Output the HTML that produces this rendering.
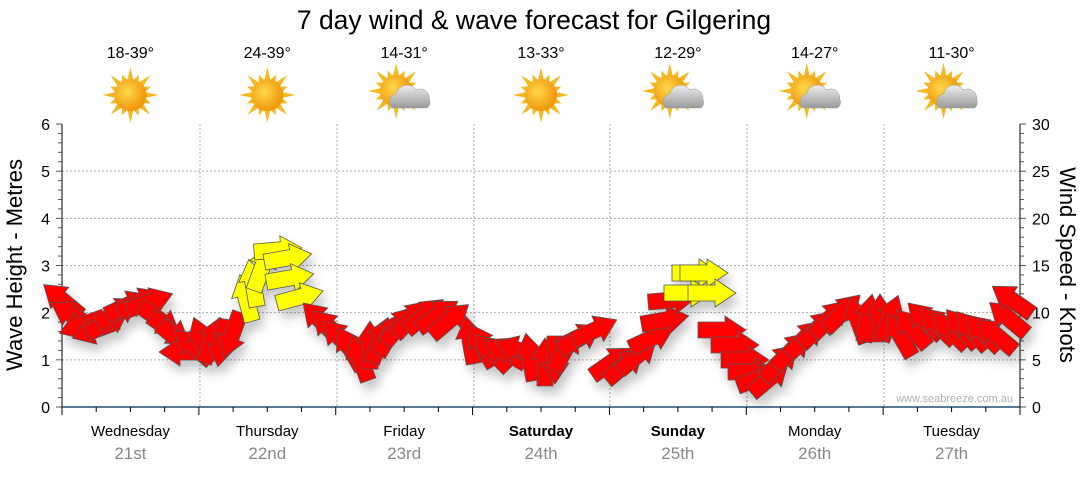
<!DOCTYPE html>
<html><head><meta charset="utf-8">
<style>
body{margin:0;background:#fff;width:1080px;height:475px;overflow:hidden;font-family:"Liberation Sans",sans-serif}
</style></head><body>
<svg id="s" width="1080" height="475" xmlns="http://www.w3.org/2000/svg" font-family="Liberation Sans, sans-serif">
<defs>
<filter id="sh" x="-50%" y="-50%" width="200%" height="200%"><feDropShadow dx="4" dy="8" stdDeviation="5" flood-color="#000" flood-opacity="0.22"/></filter>
<radialGradient id="sun" cx="40%" cy="40%" r="60%"><stop offset="0" stop-color="#ffd84a"/><stop offset="1" stop-color="#f0960a"/></radialGradient>
<linearGradient id="cl" x1="0" y1="0" x2="0" y2="1"><stop offset="0" stop-color="#eee"/><stop offset="1" stop-color="#999"/></linearGradient>
</defs>
<text x="534" y="29" font-size="26.5" text-anchor="middle" fill="#000">7 day wind &amp; wave forecast for Gilgering</text>
<g id="grid" stroke="#aaa" stroke-dasharray="2,2" stroke-width="1"></g>
<g id="axes"></g>
<g id="icons"></g>
<text x="1013" y="402" font-size="11" fill="#b0b0b0" text-anchor="end">www.seabreeze.com.au</text>
<g id="arrows" filter="url(#sh)"></g>
<text transform="translate(22,265) rotate(-90)" font-size="22" text-anchor="middle">Wave Height - Metres</text>
<text transform="translate(1060,265) rotate(90)" font-size="22" text-anchor="middle">Wind Speed - Knots</text>
</svg>
<script>
var NS="http://www.w3.org/2000/svg";
function el(p,t,a,txt){var e=document.createElementNS(NS,t);for(var k in a)e.setAttribute(k,a[k]);if(txt!=null)e.textContent=txt;document.getElementById(p).appendChild(e);return e;}
var L=62,R=1020,B=407,T=124,py=(B-T)/6;
for(var i=1;i<=5;i++){el('grid','line',{x1:L,x2:R,y1:B-i*py,y2:B-i*py});}
var days=[200,337,474,610,747,884];
days.forEach(function(x){el('grid','line',{x1:x,x2:x,y1:T,y2:B});});
el('axes','line',{x1:L,x2:L,y1:T,y2:B,stroke:'#000'});
el('axes','line',{x1:R,x2:R,y1:T,y2:B,stroke:'#000'});
el('axes','line',{x1:L,x2:R,y1:B,y2:B,stroke:'#1f4e79','stroke-width':1.5});
for(var i=0;i<=30;i++){var y=B-i*py/5;var big=i%5==0;el('axes','line',{x1:L-(big?6:4),x2:L,y1:y,y2:y,stroke:'#555'});el('axes','line',{x1:R,x2:R+(big?6:4),y1:y,y2:y,stroke:'#555'});}
for(var i=0;i<=6;i++){el('axes','text',{x:L-12,y:B-i*py+6,'font-size':16,'text-anchor':'end'},i);}
for(var i=0;i<=6;i++){el('axes','text',{x:R+12,y:B-i*py+6,'font-size':16},i*5);}
for(var i=0;i<=28;i++){var x=L+i*(R-L)/28;el('axes','line',{x1:x,x2:x,y1:B,y2:B+(i%4==0?8:5),stroke:'#000'});}
var dn=["Wednesday","Thursday","Friday","Saturday","Sunday","Monday","Tuesday"],dd=["21st","22nd","23rd","24th","25th","26th","27th"],tm=["18-39°","24-39°","14-31°","13-33°","12-29°","14-27°","11-30°"];
var cl=[0,0,1,0,1,1,1];
for(var d=0;d<7;d++){var cx=L+(d+0.5)*(R-L)/7;
el('axes','text',{x:cx,y:436,'font-size':15,'text-anchor':'middle','font-weight':(d==3||d==4)?'bold':'normal'},dn[d]);
el('axes','text',{x:cx,y:459,'font-size':17,'text-anchor':'middle',fill:'#888'},dd[d]);
el('axes','text',{x:cx,y:58,'font-size':16,'text-anchor':'middle'},tm[d]);
var sx=cl[d]?cx-8:cx,sy=cl[d]?91:95;
for(var k=0;k<16;k++){var a=k*Math.PI/8,r1=15,r2=(k%2?22:28);el('icons','polygon',{points:(sx+r1*Math.cos(a-0.2))+','+(sy+r1*Math.sin(a-0.2))+' '+(sx+r2*Math.cos(a))+','+(sy+r2*Math.sin(a))+' '+(sx+r1*Math.cos(a+0.2))+','+(sy+r1*Math.sin(a+0.2)),fill:'#f5b820'});}
el('icons','circle',{cx:sx,cy:sy,r:16,fill:'url(#sun)'});
if(cl[d]){el('icons','path',{d:'M'+(cx-12)+' 108 a8 8 0 0 1 4 -14 a11 11 0 0 1 20 -4 a9 9 0 0 1 13 9 a7 7 0 0 1 -2 9 z',fill:'url(#cl)',stroke:'#999','stroke-width':0.5});}
}
var A=[
[62,300,-140,0],[72,315,-150,0],[82,325,160,0],[95,330,160,0],[108,322,-30,0],[118,312,-30,0],[128,305,-25,0],[140,302,-25,0],[150,302,-20,0],
[160,320,35,0],[170,330,35,0],[178,340,40,0],[183,352,180,0],[193,346,-140,0],[202,340,-110,0],[212,340,-70,0],[222,343,100,0],[232,335,110,0],
[246,298,-105,1],[253,283,-100,1],[262,268,-70,1],[278,250,-5,1],[288,258,-10,1],[290,278,-10,1],[300,297,-15,1],
[320,320,-135,0],[330,328,-135,0],[340,338,-135,0],[350,348,-120,0],[360,358,-110,0],[370,345,-90,0],[380,340,-70,0],[390,334,-60,0],[400,325,-50,0],[412,318,-45,0],[425,315,-40,0],[438,315,-35,0],[450,320,-40,0],
[470,340,-100,0],[482,345,-120,0],[492,352,-135,0],[505,352,-150,0],[518,350,-160,0],[530,357,-100,0],[545,362,-90,0],[555,360,90,0],[565,350,-60,0],[580,338,-30,0],[595,330,-25,0],
[612,362,-35,0],[625,365,-40,0],[638,355,-40,0],[652,338,-25,0],[665,320,-10,0],[672,300,-5,0],
[688,293,0,1],[696,273,0,1],[704,273,0,1],[712,293,0,1],
[722,330,0,0],[735,345,0,0],[745,360,0,0],[752,372,0,0],[760,378,-20,0],[770,378,-40,0],[780,362,-45,0],[792,350,-45,0],[805,338,-45,0],[818,328,-45,0],[830,318,-45,0],[843,312,-45,0],
[858,320,-110,0],[868,318,-80,0],[880,318,-90,0],[890,318,-70,0],[900,335,-120,0],[912,328,-130,0],[925,320,-135,0],[938,325,-135,0],[950,330,-135,0],[962,328,-130,0],[972,330,-130,0],[983,332,-135,0],[996,335,-140,0],[1008,318,-140,0],[1012,300,-145,0]];
A.forEach(function(a){el('arrows','polygon',{points:'-24,-8 3,-8 3,-14 24,0 3,14 3,8 -24,8',fill:a[3]?'#ffff00':'#ff0000',stroke:'#555','stroke-width':0.8,transform:'translate('+a[0]+','+a[1]+') rotate('+a[2]+')'});});
</script>
</body></html>
